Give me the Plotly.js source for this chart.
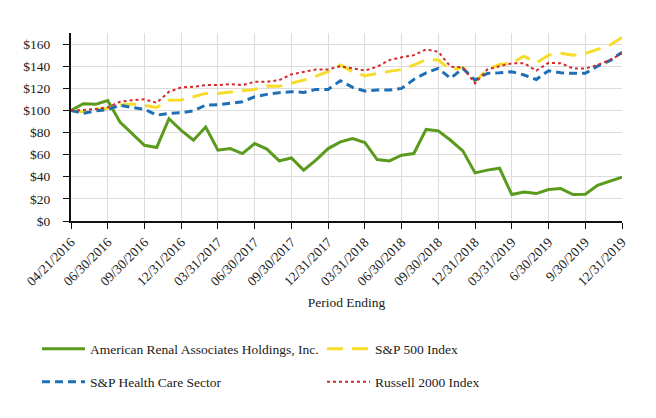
<!DOCTYPE html>
<html>
<head>
<meta charset="utf-8">
<script src="https://cdn.plot.ly/plotly-3.0.1.min.js"></script>
<style>html,body{margin:0;padding:0;background:#fff;}#chart{width:656px;height:418px;}</style>
</head>
<body>
<div id="chart"></div>
<script>
// Tick labels (one every quarter; 3 data points per quarter)
const tickLabels = ["04/21/2016","06/30/2016","09/30/2016","12/31/2016","03/31/2017","06/30/2017","09/30/2017","12/31/2017","03/31/2018","06/30/2018","09/30/2018","12/31/2018","03/31/2019","6/30/2019","9/30/2019","12/31/2019"];

const yTickValues = [0,20,40,60,80,100,120,140,160];
const yTickLabels = ["$0","$20","$40","$60","$80","$100","$120","$140","$160"];

const seriesNames = ["American Renal Associates Holdings, Inc.","S&P 500 Index","S&P Health Care Sector","Russell 2000 Index"];

const americanRenal = [100,106,105.5,109,89.5,79,68.5,66.5,92.5,82,73,85,64,65.5,61,70,65,54.3,57,46,55,65.5,71.5,74.6,71,55.6,54.3,59.5,61,82.8,81.5,73,63.4,43.5,46,47.7,23.9,26.3,24.8,28.4,29.3,23.9,24.2,32.3,36.2,39.6];

const sp500 = [100,98.7,101,101.8,104.8,105.7,104.5,102.7,109.3,109.5,112.3,115.4,115.4,116.3,117.8,119,122,121.9,124.4,127.4,131,135,141,135,131.4,133.5,135.3,137,141,146,145.5,136.5,138.9,126,137,141.6,143,149,143,150,151.6,150,151.6,155.2,159,166];

const spHealthCare = [100,97.3,99.5,100.8,104.8,102.6,101.1,95.7,97.3,97.9,99.5,104.8,105.1,106.3,107.8,112.3,114.5,116,116.9,116.3,119,119,126.8,120.8,117.5,118.4,118.4,119.9,128,134,138,129,138,127.4,133.5,134,135,132,128,135.9,134,133.5,133.5,140,145,152.5];

const russell2000 = [100,100.3,101.3,102.8,107.8,109.3,110,106.9,116.9,120.8,121.4,122.9,122.9,123.8,122.9,125.9,125.9,127.4,132.6,135,137,137,140,138,136,139.5,145.5,148,150,155.2,153,139.5,138.9,124.4,137,140,142.6,142.6,136,143,142.6,138,138,141,145.5,151.6];

const idx = americanRenal.map((_, i) => i);
const tickIdx = tickLabels.map((_, i) => i * 3);

const font = "Liberation Serif, DejaVu Serif, serif";

const traces = [
  {x: idx, y: americanRenal, name: seriesNames[0], mode: "lines", line: {color: "#5a9a1c", width: 3}, legend: "legend"},
  {x: idx, y: sp500, name: seriesNames[1], mode: "lines", line: {color: "#f7dc2a", width: 3, dash: "16px,9px"}, legend: "legend2"},
  {x: idx, y: spHealthCare, name: seriesNames[2], mode: "lines", line: {color: "#1f6fb6", width: 3, dash: "8px,5px"}, legend: "legend3"},
  {x: idx, y: russell2000, name: seriesNames[3], mode: "lines", line: {color: "#d42a2a", width: 2, dash: "dot"}, legend: "legend4"}
];

function lg(xpx, ypx) {
  return {orientation: "h", xref: "container", yref: "container", x: xpx / 656, y: 1 - ypx / 418, xanchor: "left", yanchor: "middle",
    itemwidth: 43, font: {family: font, size: 13.5, color: "#1a1a1a"}, bgcolor: "rgba(0,0,0,0)", borderwidth: 0};
}

const layout = {
  width: 656, height: 418,
  margin: {l: 71, r: 34, t: 33, b: 197},
  paper_bgcolor: "#fff", plot_bgcolor: "#fff",
  font: {family: font, size: 13, color: "#1a1a1a"},
  showlegend: true,
  legend: lg(37, 349),
  legend2: lg(322, 349),
  legend3: lg(37, 382),
  legend4: lg(322, 382),
  xaxis: {
    range: [0, 45], tickmode: "array", tickvals: tickIdx, ticktext: tickLabels, tickangle: -45,
    showgrid: true, gridcolor: "#dcdcdc", gridwidth: 1, zeroline: false,
    showline: true, linecolor: "#111", linewidth: 2, ticks: "outside", ticklen: 6, tickcolor: "#111", tickwidth: 1,
    tickfont: {family: font, size: 13.5, color: "#1a1a1a"},
    title: {text: "Period Ending", font: {family: font, size: 13.5, color: "#1a1a1a"}, standoff: 10}
  },
  yaxis: {
    range: [0, 170], tickmode: "array", tickvals: yTickValues, ticktext: yTickLabels,
    showgrid: true, gridcolor: "#dcdcdc", gridwidth: 1, zeroline: false,
    showline: true, linecolor: "#111", linewidth: 2, ticks: "outside", ticklen: 6, tickcolor: "#111", tickwidth: 1,
    ticklabelstandoff: 10,
    tickfont: {family: font, size: 13.5, color: "#1a1a1a"}
  }
};

Plotly.newPlot("chart", traces, layout, {displayModeBar: false, staticPlot: true});
</script>
</body>
</html>
